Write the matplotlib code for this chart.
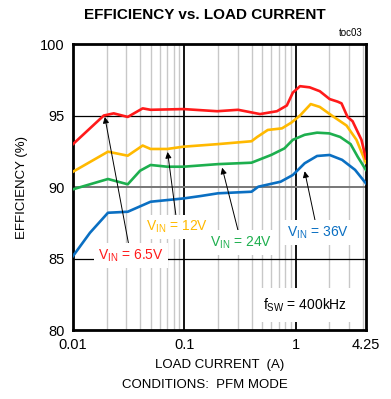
import numpy as np
import matplotlib
matplotlib.use('Agg')
import matplotlib.pyplot as plt
from matplotlib.ticker import FixedLocator, NullFormatter

plt.rcParams['font.family'] = ['Liberation Sans Narrow', 'Liberation Sans', 'DejaVu Sans']

# load current (A) and efficiency (%)
i_65 = [0.01, 0.0189, 0.0232, 0.031, 0.0422, 0.0497, 0.098, 0.197, 0.303, 0.477,
        0.676, 0.83, 0.94, 1.09, 1.33, 1.64, 2.01, 2.37, 2.57, 2.91, 3.23, 3.88, 4.25]
eff_65 = [93.0, 95.0, 95.15, 94.9, 95.5, 95.4, 95.45, 95.3, 95.4, 95.1,
          95.3, 95.7, 96.6, 97.05, 96.97, 96.7, 96.15, 95.97, 95.85, 94.9, 94.6, 93.3, 92.0]

i_12 = [0.01, 0.0206, 0.031, 0.0422, 0.0497, 0.070, 0.098, 0.2, 0.4, 0.45,
        0.56, 0.75, 0.91, 1.09, 1.36, 1.64, 2.1, 2.85, 3.5, 4.25]
eff_12 = [91.07, 92.47, 92.19, 92.9, 92.66, 92.66, 92.82, 93.0, 93.2, 93.5,
          93.99, 94.1, 94.5, 95.0, 95.8, 95.6, 95.0, 94.3, 93.3, 91.7]

i_24 = [0.01, 0.0206, 0.031, 0.040, 0.0497, 0.070, 0.098, 0.2, 0.4, 0.6,
        0.79, 0.94, 1.2, 1.55, 2.0, 2.5, 3.1, 3.6, 4.25]
eff_24 = [89.84, 90.56, 90.19, 91.14, 91.54, 91.42, 91.42, 91.6, 91.7, 92.24,
          92.7, 93.3, 93.65, 93.8, 93.75, 93.5, 93.0, 92.1, 91.2]

i_36 = [0.01, 0.0142, 0.0206, 0.031, 0.0497, 0.098, 0.14, 0.2, 0.4, 0.46,
        0.73, 0.94, 1.2, 1.55, 2.01, 2.6, 3.4, 4.25]
eff_36 = [85.17, 86.8, 88.2, 88.27, 88.97, 89.2, 89.37, 89.56, 89.67, 90.02,
          90.37, 90.84, 91.66, 92.17, 92.24, 91.9, 91.2, 90.26]

RED = '#FF1A1A'
YEL = '#FFB900'
GRN = '#1DAF4E'
BLU = '#0A6FC2'

fig = plt.figure(figsize=(3.91, 3.99), dpi=100)
ax = fig.add_axes([0.1867, 0.1729, 0.749, 0.7168])

ax.set_xscale('log')
ax.set_xlim(0.01, 4.25)
ax.set_ylim(80, 100)

# grid
minor_x = [k * 10.0 ** e for e in (-2, -1, 0) for k in range(2, 10) if k * 10.0 ** e < 4.25]
for x in minor_x:
    ax.axvline(x, color='#c8c8c8', lw=1.0, zorder=1)
for x in (0.1, 1):
    ax.axvline(x, color='black', lw=1.3, zorder=1)
ax.axhline(95, color='black', lw=0.9, zorder=1)
ax.axhline(90, color='#777777', lw=1.4, zorder=1)
ax.axhline(85, color='black', lw=0.9, zorder=1)

ax.plot(i_36, eff_36, color=BLU, lw=1.9, zorder=3)
ax.plot(i_24, eff_24, color=GRN, lw=1.9, zorder=3)
ax.plot(i_12, eff_12, color=YEL, lw=1.9, zorder=3)
ax.plot(i_65, eff_65, color=RED, lw=1.9, zorder=3)

ax.xaxis.set_major_locator(FixedLocator([0.01, 0.1, 1, 4.25]))
ax.xaxis.set_minor_formatter(NullFormatter())
ax.set_xticklabels(['0.01', '0.1', '1', '4.25'])
ax.set_yticks([80, 85, 90, 95, 100])
ax.tick_params(which='both', length=0, labelsize=10.5, pad=6)
for s in ax.spines.values():
    s.set_linewidth(2.0)

ax.set_xlabel('LOAD CURRENT  (A)', fontsize=9.5, labelpad=5)
ax.set_ylabel('EFFICIENCY (%)', fontsize=9.5, labelpad=9)
fig.text(0.525, 0.035, 'CONDITIONS:  PFM MODE', ha='center', va='center', fontsize=9.5)
fig.text(0.525, 0.962, 'EFFICIENCY vs. LOAD CURRENT', ha='center', va='center',
         fontsize=11, fontweight='bold')
fig.text(0.928, 0.905, 'toc03', ha='right', va='bottom', fontsize=7)

box = dict(boxstyle='square,pad=0.3', fc='white', ec='none')
arrow = dict(arrowstyle='-|>', color='black', lw=0.7, mutation_scale=9, shrinkA=0, shrinkB=0)

labels = [
    (r'V$_{\mathregular{IN}}$ = 6.5V', RED, (0.0193, 94.9), (0.033, 85.2)),
    (r'V$_{\mathregular{IN}}$ = 12V', YEL, (0.0706, 92.45), (0.0866, 87.2)),
    (r'V$_{\mathregular{IN}}$ = 24V', GRN, (0.218, 91.35), (0.323, 86.1)),
    (r'V$_{\mathregular{IN}}$ = 36V', BLU, (1.2, 91.1), (1.57, 86.8)),
]
for txt, col, xy, xytext in labels:
    ax.annotate(txt, xy=xy, xytext=xytext, color=col, fontsize=10, ha='center', va='center',
                bbox=box, arrowprops=arrow, zorder=5)

ax.text(1.2, 81.75, r'f$_{\mathregular{SW}}$ = 400kHz', ha='center', va='center', fontsize=10,
        bbox=dict(boxstyle='square,pad=0.6', fc='white', ec='none'), zorder=5)

fig.savefig('out.png', dpi=100)
